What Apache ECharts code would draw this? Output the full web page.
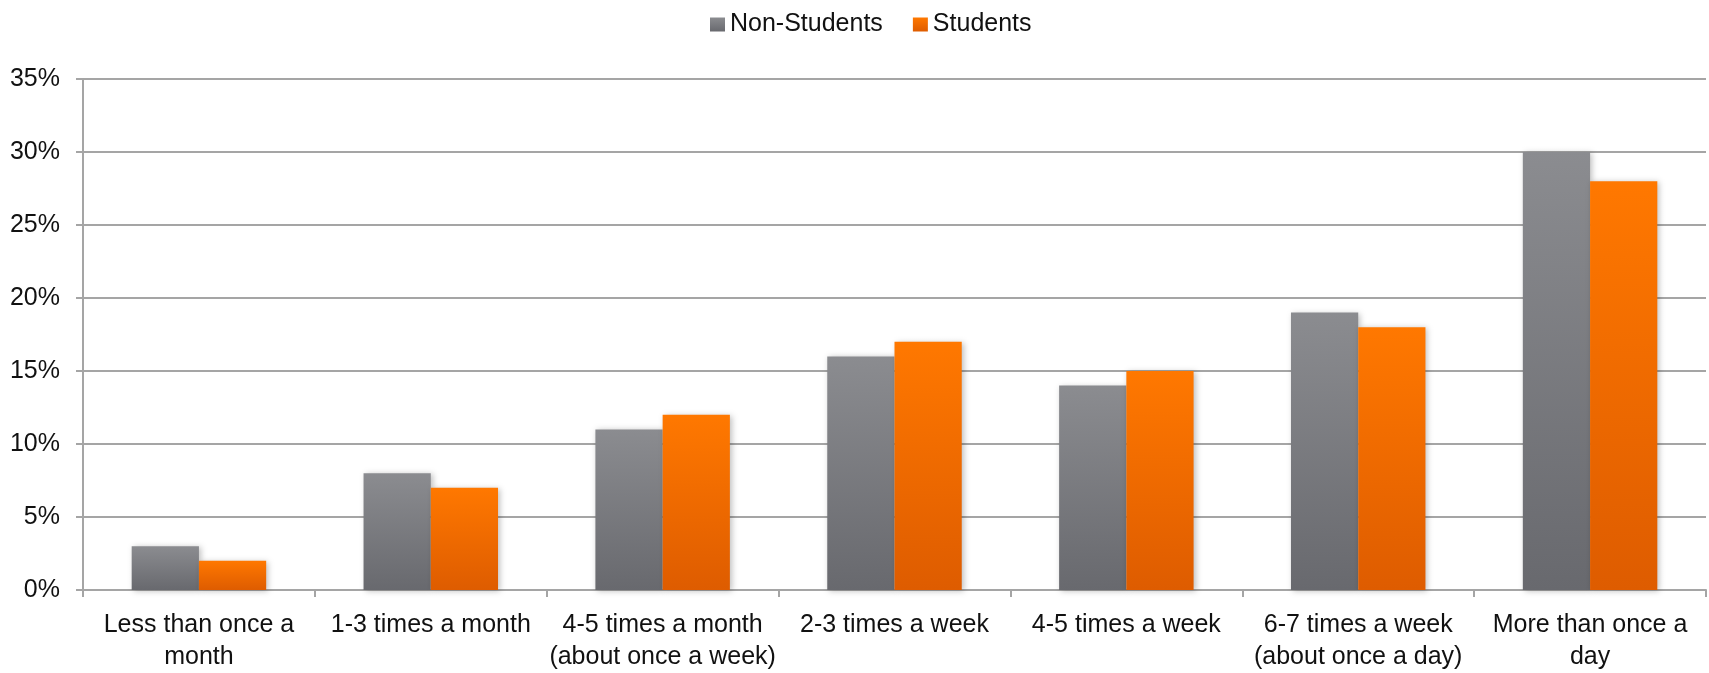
<!DOCTYPE html>
<html><head><meta charset="utf-8">
<script src="https://cdn.jsdelivr.net/npm/echarts@6/dist/echarts.min.js"></script>
<style>html,body{margin:0;padding:0;background:#fff}#c{width:1709px;height:673px}</style>
</head><body><div id="c"></div>
<script>
const categories = ["Less than once a\nmonth","1-3 times a month","4-5 times a month\n(about once a week)","2-3 times a week","4-5 times a week","6-7 times a week\n(about once a day)","More than once a\nday"];
const nonStudents = [3, 8, 11, 16, 14, 19, 30];
const students = [2, 7, 12, 17, 15, 18, 28];
const yTicks = [0, 5, 10, 15, 20, 25, 30, 35];

const font = "Liberation Sans";
function grad(top, bottom){
  return new echarts.graphic.LinearGradient(0,0,0,1,[{offset:0,color:top},{offset:1,color:bottom}]);
}
const chart = echarts.init(document.getElementById('c'), null, {renderer:'canvas'});
chart.setOption({
  animation:false,
  backgroundColor:'#fff',
  legend:{
    top:7, left:705,
    itemWidth:15, itemHeight:14, itemGap:30,
    icon:'rect',
    textStyle:{fontFamily:font,fontSize:25,color:'#111'},
    data:['Non-Students','Students']
  },
  grid:{left:83,right:3,top:79,bottom:81,containLabel:false},
  xAxis:{
    type:'category',
    data:categories,
    boundaryGap:true,
    axisLine:{lineStyle:{color:'#a5a5a5',width:2}},
    axisTick:{show:true,length:7,lineStyle:{color:'#a5a5a5',width:2}},
    axisLabel:{fontFamily:font,fontSize:25,color:'#111',margin:19,lineHeight:32,interval:0}
  },
  yAxis:{
    type:'value',min:yTicks[0],max:yTicks[yTicks.length-1],interval:5,
    axisLine:{show:true,lineStyle:{color:'#a5a5a5',width:2}},
    axisTick:{show:true,length:7,lineStyle:{color:'#a5a5a5',width:2}},
    splitLine:{lineStyle:{color:'#a5a5a5',width:2}},
    axisLabel:{fontFamily:font,fontSize:25,color:'#111',margin:23,formatter:'{value}%'}
  },
  series:[
    {name:'Non-Students',type:'bar',data:nonStudents,barGap:'0%',barCategoryGap:'42%',
     itemStyle:{color:grad('#8b8c90','#68696e'),shadowBlur:6,shadowColor:'rgba(0,0,0,0.25)',shadowOffsetX:2,shadowOffsetY:1}},
    {name:'Students',type:'bar',data:students,barGap:'0%',barCategoryGap:'42%',
     itemStyle:{color:grad('#ff7800','#de5c00'),shadowBlur:6,shadowColor:'rgba(0,0,0,0.25)',shadowOffsetX:2,shadowOffsetY:1}}
  ]
});
</script></body></html>
